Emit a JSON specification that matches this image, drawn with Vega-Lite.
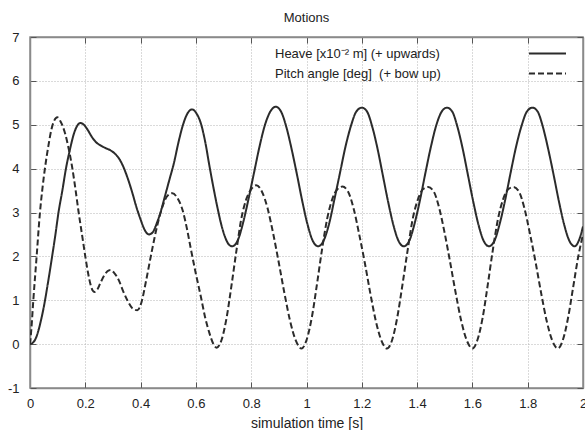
{
"$schema":"https://vega.github.io/schema/vega-lite/v6.json",
"width":553,"height":351,
"autosize":{"type":"none"},
"padding":{"left":30,"top":37,"right":2,"bottom":42},
"background":"white",
"title":{"text":"Motions","font":"Liberation Sans","fontSize":13,"fontWeight":"normal","color":"#222","offset":6},
"config":{
 "view":{"stroke":"#8a8a8a","strokeWidth":1.5},
 "axis":{"labelFont":"Liberation Sans","labelFontSize":13,"labelColor":"#222","titleFont":"Liberation Sans","titleFontSize":14,"titleFontWeight":"normal","titleColor":"#222","domainColor":"#8a8a8a","domainWidth":1.5,"tickColor":"#555","tickSize":-6,"tickWidth":1,"gridColor":"#b5b5b5","gridDash":[1,2],"gridWidth":1}
},
"datasets":{
"heave":[
{"t":0,"v":0},{"t":0.01,"v":0.03},{"t":0.02,"v":0.12},{"t":0.03,"v":0.3},{"t":0.04,"v":0.55},{"t":0.05,"v":0.85},{"t":0.065,"v":1.4},{"t":0.08,"v":2.0},{"t":0.092,"v":2.5},{"t":0.103,"v":3.0},{"t":0.117,"v":3.5},{"t":0.13,"v":4.0},{"t":0.145,"v":4.45},{"t":0.158,"v":4.78},{"t":0.17,"v":4.97},{"t":0.182,"v":5.04},{"t":0.195,"v":5.0},{"t":0.21,"v":4.87},{"t":0.223,"v":4.73},{"t":0.236,"v":4.62},{"t":0.255,"v":4.53},{"t":0.273,"v":4.47},{"t":0.29,"v":4.42},{"t":0.309,"v":4.33},{"t":0.325,"v":4.2},{"t":0.339,"v":4.02},{"t":0.355,"v":3.75},{"t":0.37,"v":3.45},{"t":0.385,"v":3.12},{"t":0.4,"v":2.84},{"t":0.415,"v":2.6},{"t":0.43,"v":2.5},{"t":0.445,"v":2.56},{"t":0.46,"v":2.78},{"t":0.472,"v":3.0},{"t":0.485,"v":3.3},{"t":0.503,"v":3.72},{"t":0.521,"v":4.14},{"t":0.537,"v":4.6},{"t":0.552,"v":4.97},{"t":0.568,"v":5.24},{"t":0.586,"v":5.35},{"t":0.602,"v":5.26},{"t":0.618,"v":5.03},{"t":0.634,"v":4.6},{"t":0.649,"v":4.06},{"t":0.664,"v":3.55},{"t":0.679,"v":3.08},{"t":0.692,"v":2.72},{"t":0.705,"v":2.45},{"t":0.718,"v":2.28},{"t":0.731,"v":2.23},
{"t":0.751,"v":2.36},{"t":0.77,"v":2.75},{"t":0.79,"v":3.3},{"t":0.81,"v":3.9},{"t":0.83,"v":4.5},{"t":0.849,"v":4.98},{"t":0.869,"v":5.3},{"t":0.889,"v":5.41},
{"t":0.908,"v":5.3},{"t":0.927,"v":4.95},{"t":0.946,"v":4.45},{"t":0.966,"v":3.85},{"t":0.985,"v":3.25},{"t":1.004,"v":2.72},{"t":1.023,"v":2.35},{"t":1.042,"v":2.23},
{"t":1.062,"v":2.36},{"t":1.082,"v":2.75},{"t":1.101,"v":3.3},{"t":1.121,"v":3.9},{"t":1.141,"v":4.5},{"t":1.161,"v":4.98},{"t":1.18,"v":5.3},{"t":1.2,"v":5.39},
{"t":1.219,"v":5.3},{"t":1.238,"v":4.95},{"t":1.257,"v":4.45},{"t":1.276,"v":3.85},{"t":1.295,"v":3.25},{"t":1.314,"v":2.72},{"t":1.333,"v":2.35},{"t":1.352,"v":2.23},
{"t":1.372,"v":2.36},{"t":1.391,"v":2.75},{"t":1.411,"v":3.3},{"t":1.43,"v":3.9},{"t":1.45,"v":4.5},{"t":1.469,"v":4.98},{"t":1.489,"v":5.3},{"t":1.508,"v":5.39},
{"t":1.527,"v":5.3},{"t":1.546,"v":4.95},{"t":1.565,"v":4.45},{"t":1.584,"v":3.85},{"t":1.603,"v":3.25},{"t":1.622,"v":2.72},{"t":1.641,"v":2.35},{"t":1.66,"v":2.23},
{"t":1.68,"v":2.36},{"t":1.699,"v":2.75},{"t":1.719,"v":3.3},{"t":1.738,"v":3.9},{"t":1.758,"v":4.5},{"t":1.778,"v":4.98},{"t":1.797,"v":5.3},{"t":1.817,"v":5.39},
{"t":1.836,"v":5.3},{"t":1.855,"v":4.95},{"t":1.874,"v":4.45},{"t":1.894,"v":3.85},{"t":1.913,"v":3.25},{"t":1.932,"v":2.72},{"t":1.951,"v":2.35},{"t":1.97,"v":2.23},
{"t":1.985,"v":2.36},{"t":2.0,"v":2.68}
],
"pitch":[
{"t":0,"v":0},{"t":0.005,"v":0.35},{"t":0.012,"v":1.0},{"t":0.024,"v":2.0},{"t":0.036,"v":3.0},{"t":0.045,"v":3.55},{"t":0.055,"v":4.05},{"t":0.066,"v":4.5},{"t":0.077,"v":4.88},{"t":0.088,"v":5.1},{"t":0.099,"v":5.17},{"t":0.11,"v":5.08},{"t":0.127,"v":4.8},{"t":0.14,"v":4.45},{"t":0.152,"v":4.05},{"t":0.164,"v":3.55},{"t":0.176,"v":3.0},{"t":0.188,"v":2.5},{"t":0.2,"v":2.0},{"t":0.21,"v":1.62},{"t":0.218,"v":1.38},{"t":0.226,"v":1.23},{"t":0.234,"v":1.19},{"t":0.244,"v":1.25},{"t":0.255,"v":1.4},{"t":0.27,"v":1.58},{"t":0.28,"v":1.66},{"t":0.291,"v":1.69},{"t":0.305,"v":1.62},{"t":0.321,"v":1.46},{"t":0.336,"v":1.22},{"t":0.352,"v":1.0},{"t":0.37,"v":0.82},{"t":0.388,"v":0.77},{"t":0.403,"v":0.95},{"t":0.42,"v":1.45},{"t":0.44,"v":2.1},{"t":0.46,"v":2.7},{"t":0.48,"v":3.15},{"t":0.497,"v":3.38},{"t":0.515,"v":3.44},{"t":0.533,"v":3.33},{"t":0.552,"v":3.05},{"t":0.567,"v":2.65},{"t":0.582,"v":2.16},{"t":0.6,"v":1.6},{"t":0.618,"v":1.08},{"t":0.633,"v":0.62},{"t":0.649,"v":0.25},{"t":0.662,"v":0.02},{"t":0.675,"v":-0.08},
{"t":0.693,"v":0.1},{"t":0.711,"v":0.6},{"t":0.729,"v":1.35},{"t":0.747,"v":2.15},{"t":0.764,"v":2.85},{"t":0.782,"v":3.3},{"t":0.8,"v":3.53},{"t":0.818,"v":3.62},
{"t":0.8385,"v":3.48},{"t":0.859,"v":3.1},{"t":0.8795,"v":2.52},{"t":0.9,"v":1.85},{"t":0.9205,"v":1.15},{"t":0.941,"v":0.52},{"t":0.9615,"v":0.08},{"t":0.982,"v":-0.1},
{"t":1.0005,"v":0.1},{"t":1.019,"v":0.6},{"t":1.0375,"v":1.35},{"t":1.056,"v":2.15},{"t":1.0745,"v":2.85},{"t":1.093,"v":3.3},{"t":1.1115,"v":3.53},{"t":1.13,"v":3.59},
{"t":1.15,"v":3.48},{"t":1.17,"v":3.1},{"t":1.19,"v":2.52},{"t":1.211,"v":1.85},{"t":1.231,"v":1.15},{"t":1.251,"v":0.52},{"t":1.271,"v":0.08},{"t":1.291,"v":-0.1},
{"t":1.31,"v":0.1},{"t":1.328,"v":0.6},{"t":1.347,"v":1.35},{"t":1.366,"v":2.15},{"t":1.384,"v":2.85},{"t":1.403,"v":3.3},{"t":1.421,"v":3.53},{"t":1.44,"v":3.58},
{"t":1.46,"v":3.48},{"t":1.48,"v":3.1},{"t":1.5,"v":2.52},{"t":1.52,"v":1.85},{"t":1.54,"v":1.15},{"t":1.56,"v":0.52},{"t":1.58,"v":0.08},{"t":1.6,"v":-0.1},
{"t":1.6185,"v":0.1},{"t":1.637,"v":0.6},{"t":1.6555,"v":1.35},{"t":1.674,"v":2.15},{"t":1.6925,"v":2.85},{"t":1.711,"v":3.3},{"t":1.7295,"v":3.53},{"t":1.748,"v":3.58},
{"t":1.768,"v":3.48},{"t":1.788,"v":3.1},{"t":1.808,"v":2.52},{"t":1.829,"v":1.85},{"t":1.849,"v":1.15},{"t":1.869,"v":0.52},{"t":1.889,"v":0.08},{"t":1.909,"v":-0.1},
{"t":1.9275,"v":0.1},{"t":1.946,"v":0.6},{"t":1.9645,"v":1.3},{"t":1.983,"v":2.0},{"t":2.0,"v":2.5}
]
},
"layer":[
{"data":{"name":"heave"},
 "mark":{"type":"line","interpolate":"monotone","color":"#2b2b2b","strokeWidth":2,"clip":true},
 "encoding":{
  "x":{"field":"t","type":"quantitative","scale":{"domain":[0,2],"nice":false},
   "axis":{"orient":"bottom","values":[0,0.2,0.4,0.6,0.8,1,1.2,1.4,1.6,1.8,2],"format":"~g","title":"simulation time [s]","labelPadding":15,"titlePadding":6,"grid":true,"labelFlush":false}},
  "y":{"field":"v","type":"quantitative","scale":{"domain":[-1,7],"nice":false},
   "axis":{"orient":"left","values":[-1,0,1,2,3,4,5,6,7],"labelExpr":"datum.value < 0 ? '-' + abs(datum.value) : '' + datum.value","title":null,"labelPadding":17,"grid":true}},
  "strokeDash":{"datum":"Heave [x10⁻² m] (+ upwards)","type":"nominal",
   "scale":{"domain":["Heave [x10⁻² m] (+ upwards)","Pitch angle [deg]\u00a0 (+ bow up)"],"range":[[1,0],[6,3]]},
   "legend":{"orient":"none","legendX":509,"legendY":8,"title":null,"symbolType":"M-2.5,0L2.5,0","symbolSize":219,"symbolStrokeWidth":2,"symbolStrokeColor":"#2b2b2b","symbolFillColor":"transparent","labelFont":"Liberation Sans","labelFontSize":13,"labelColor":"#222","labelLimit":400,"labelAlign":"left","labelOffset":-281,"rowPadding":4}}
 }},
{"data":{"name":"pitch"},
 "mark":{"type":"line","interpolate":"monotone","color":"#2b2b2b","strokeWidth":2,"clip":true},
 "encoding":{
  "x":{"field":"t","type":"quantitative","scale":{"domain":[0,2],"nice":false},
   "axis":{"orient":"top","values":[0,0.2,0.4,0.6,0.8,1,1.2,1.4,1.6,1.8,2],"labels":false,"title":null,"grid":false}},
  "y":{"field":"v","type":"quantitative","scale":{"domain":[-1,7],"nice":false},
   "axis":{"orient":"right","values":[-1,0,1,2,3,4,5,6,7],"labels":false,"title":null,"grid":false}},
  "strokeDash":{"datum":"Pitch angle [deg]\u00a0 (+ bow up)","type":"nominal"}
 }}
],
"resolve":{"axis":{"x":"independent","y":"independent"}}
}
